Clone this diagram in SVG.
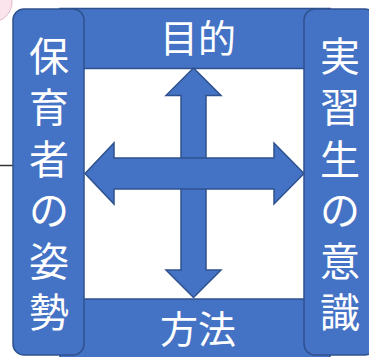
<svg xmlns="http://www.w3.org/2000/svg" width="369" height="357" viewBox="0 0 369 357">
<style>
.box{fill:#4472C4;stroke:#2F528F;stroke-width:1.5}
.arrow{fill:#4472C4;stroke:#2F528F;stroke-width:1.5;stroke-linejoin:miter}
.t{font-family:"Noto Sans CJK JP","Noto Sans CJK SC",sans-serif;fill:#FFFFFF;text-anchor:middle}
.col{font-size:40px}
.band{font-size:38px}
</style>
<rect width="369" height="357" fill="#FFFFFF"/>
<g id="connectors">
<line x1="0" y1="165.5" x2="13" y2="165.5" stroke="#333333" stroke-width="1.5"/>
</g>
<circle cx="-8" cy="2" r="20" fill="#FCE4EC" stroke="#E6B8CB" stroke-width="1"/>
<g id="purpose">
<rect class="box" x="60" y="8.5" width="270" height="60"/>
<text class="t band" x="198" y="52">目的</text>
</g>
<g id="method">
<rect class="box" x="60" y="299" width="270" height="62"/>
<text class="t band" x="198" y="343">方法</text>
</g>
<g id="teacher">
<rect class="box" x="13" y="9" width="71" height="346" rx="11" ry="11"/>
<text class="t col" x="49" y="71">保</text>
<text class="t col" x="49" y="122">育</text>
<text class="t col" x="49" y="174">者</text>
<text class="t col" x="49" y="225">の</text>
<text class="t col" x="49" y="276">姿</text>
<text class="t col" x="49" y="327">勢</text>
</g>
<g id="trainee">
<rect class="box" x="304" y="9" width="72" height="346" rx="11" ry="11"/>
<text class="t col" x="340" y="71">実</text>
<text class="t col" x="340" y="122">習</text>
<text class="t col" x="340" y="174">生</text>
<text class="t col" x="340" y="225">の</text>
<text class="t col" x="340" y="276">意</text>
<text class="t col" x="340" y="327">識</text>
</g>
<g id="arrows">
<polygon class="arrow" points="193.5,68 221,95.5 206,95.5 206,270 221,270 193.5,297.5 166,270 181,270 181,95.5 166,95.5"/>
<polygon class="arrow" points="85,173.5 114,143 114,158 274,158 274,143 304,173.5 274,204 274,189 114,189 114,204"/>
</g>
</svg>
